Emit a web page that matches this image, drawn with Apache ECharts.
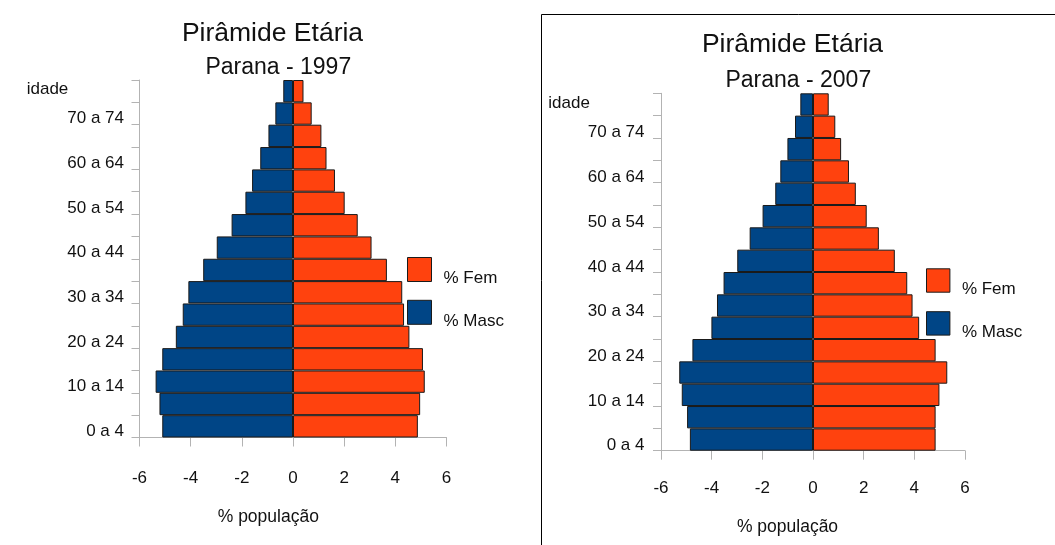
<!DOCTYPE html>
<html>
<head>
<meta charset="utf-8">
<script src="https://cdn.jsdelivr.net/npm/echarts@6/dist/echarts.min.js"></script>
<style>
html,body{margin:0;padding:0;background:#fff;}
#c{width:1055px;height:545px;}
</style>
</head>
<body>
<div id="c"></div>
<script>
// ---- data ----
var categories = ['0 a 4','5 a 9','10 a 14','15 a 19','20 a 24','25 a 29','30 a 34','35 a 39','40 a 44','45 a 49','50 a 54','55 a 59','60 a 64','65 a 69','70 a 74','75 e mais'];
var masc1997 = [-5.11,-5.22,-5.37,-5.11,-4.58,-4.31,-4.09,-3.51,-2.98,-2.40,-1.86,-1.60,-1.28,-0.96,-0.69,-0.38];
var fem1997  = [4.88,4.97,5.15,5.08,4.55,4.34,4.27,3.67,3.07,2.53,2.02,1.64,1.31,1.11,0.73,0.41];
var masc2007 = [-4.86,-4.97,-5.18,-5.28,-4.76,-4.01,-3.79,-3.53,-2.99,-2.50,-1.99,-1.49,-1.29,-1.01,-0.71,-0.50];
var fem2007  = [4.84,4.84,4.99,5.30,4.84,4.19,3.93,3.72,3.23,2.60,2.12,1.69,1.42,1.11,0.88,0.62];
var xTicks = [-6,-4,-2,0,2,4,6];
var seriesNames = ['% Fem','% Masc'];
var chartTitles = ['Pirâmide Etária','Pirâmide Etária'];
var chartSubtitles = ['Parana - 1997','Parana - 2007'];
var yAxisName = 'idade';
var xAxisName = '% população';

// ---- styling ----
var FONT = '"Liberation Sans", Arial, sans-serif';
var TXT = '#111111';
var AX = '#b3b3b3';
var FEM = '#ff420e';
var MASC = '#004586';

function xAxisCfg(gi, margin){
  return {
    type:'value', gridIndex:gi, min:xTicks[0], max:xTicks[xTicks.length-1],
    interval:xTicks[1]-xTicks[0],
    splitLine:{show:false},
    axisLine:{show:true, lineStyle:{color:AX, width:1}},
    axisTick:{show:true, length:9, lineStyle:{color:AX}},
    axisLabel:{fontFamily:FONT, fontSize:17, color:TXT, margin:margin}
  };
}
function yAxisCfg(gi, margin, padTop){
  return {
    type:'category', gridIndex:gi, data:categories,
    axisLine:{show:true, onZero:false, lineStyle:{color:AX, width:1}},
    axisTick:{show:true, length:8, interval:0, lineStyle:{color:AX}},
    axisLabel:{interval:1, margin:margin,
      formatter:function(v){ return '{a|' + v + '}'; },
      rich:{a:{fontFamily:FONT, fontSize:17, color:TXT, padding:[padTop,0,0,0]}}},
    splitLine:{show:false}
  };
}
function barSeries(name, data, idx, color){
  return {
    type:'bar', name:name, data:data, xAxisIndex:idx, yAxisIndex:idx,
    stack:'s'+idx, barCategoryGap:'0%',
    itemStyle:{color:color, borderColor:'#1a1a1a', borderWidth:1},
    emphasis:{disabled:true}
  };
}
function legendCfg(left, top, size, gap){
  return {
    data:seriesNames, orient:'vertical', left:left, top:top, padding:0,
    itemWidth:size, itemHeight:size, itemGap:gap, icon:'rect',
    itemStyle:{borderColor:'#1a1a1a', borderWidth:1},
    formatter:function(n){ return '{a|' + n + '}'; },
    textStyle:{rich:{a:{fontFamily:FONT, fontSize:17, color:TXT, padding:[18,0,0,7]}}},
    selectedMode:false
  };
}
function txt(x, y, text, size, align){
  return {type:'text', x:x, y:y, silent:true,
    style:{text:text, fontFamily:FONT, fontSize:size, fill:TXT,
      align:align||'center', verticalAlign:'middle'}};
}

var chart = echarts.init(document.getElementById('c'), null, {renderer:'canvas'});
chart.setOption({
  backgroundColor:'#ffffff',
  animation:false,
  grid:[
    {left:139.5, top:80, width:307, height:357.5},
    {left:661, top:93.3, width:304, height:357.4}
  ],
  xAxis:[xAxisCfg(0, 32), xAxisCfg(1, 29)],
  yAxis:[yAxisCfg(0, 15.5, 10), yAxisCfg(1, 16.5, 12)],
  legend:[legendCfg(407, 257, 24, 12.8), legendCfg(926, 268.3, 23.4, 13.2)],
  series:[
    barSeries(seriesNames[0], fem1997, 0, FEM),
    barSeries(seriesNames[1], masc1997, 0, MASC),
    barSeries(seriesNames[0], fem2007, 1, FEM),
    barSeries(seriesNames[1], masc2007, 1, MASC)
  ],
  graphic:[
    {type:'rect', silent:true, shape:{x:541.5, y:14.5, width:700, height:700},
     style:{fill:'none', stroke:'#000', lineWidth:1}},
    txt(272.5, 33.5, chartTitles[0], 26.5),
    txt(278.3, 67.5, chartSubtitles[0], 23),
    txt(792.5, 45, chartTitles[1], 26.5),
    txt(798.3, 81, chartSubtitles[1], 23),
    txt(26.7, 89.5, yAxisName, 17, 'left'),
    txt(548.3, 103, yAxisName, 17, 'left'),
    txt(268.3, 517, xAxisName, 17.5),
    txt(787.5, 527.5, xAxisName, 17.5)
  ]
});
</script>
</body>
</html>
